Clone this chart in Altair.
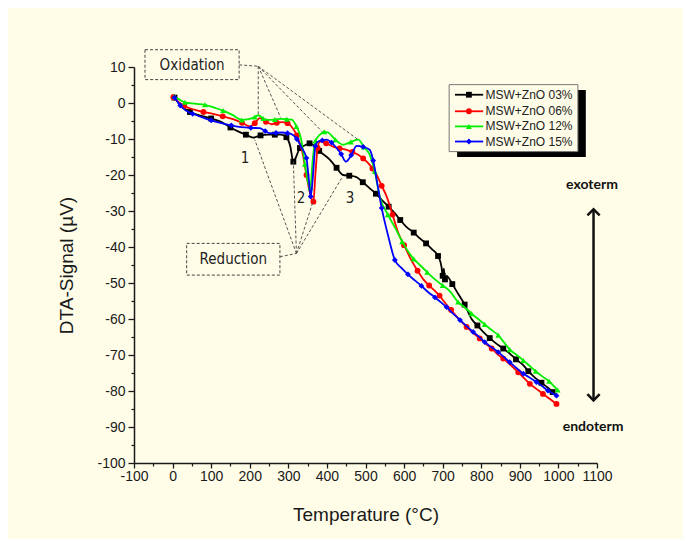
import altair as alt
import pandas as pd

# ---------------- data ----------------
series_names = ["MSW+ZnO 03%", "MSW+ZnO 06%", "MSW+ZnO 12%", "MSW+ZnO 15%"]

t_03 = [5, 20, 45, 75, 100, 127, 150, 170, 190, 209, 228, 248, 265, 280, 295, 305, 313, 320, 330, 342,
        355, 367, 380, 408, 425, 442, 458, 475, 493, 511, 527, 542, 560, 576, 590, 606, 625, 641, 657, 672,
        688, 697, 700, 703, 706, 710, 725, 740, 757, 775, 790, 805, 822, 840, 857, 874, 890, 907, 922, 939,
        956, 973, 985, 998]
s_03 = [1.5, -0.5, -2.5, -3.6, -4.3, -5.3, -6.8, -7.9, -8.8, -9.6, -9.0, -8.8, -8.8, -8.8, -9.5, -12, -16.3, -15.0, -12.5, -11.8,
        -11.2, -11.8, -13.3, -15.8, -18, -20, -20.2, -20.5, -22, -23.7, -25.2, -26.9, -28.8, -30.6, -32.5, -34.4, -36, -37.6, -39.0, -40.6,
        -42.5, -45.5, -48, -46, -49, -48, -50.3, -53, -56, -60, -61.8, -63.6, -65.3, -66.9, -68.2, -69.6, -71.2, -72.6, -74.5, -76.3,
        -77.7, -79.1, -80.3, -81.5]

t_06 = [2, 15, 30, 58, 80, 105, 130, 157, 180, 200, 213, 226, 242, 257, 270, 283, 298, 310, 322, 335,
        347, 356, 365, 370, 376, 382, 398, 416, 433, 451, 466, 481, 494, 507, 518, 529, 542, 555, 570, 585,
        600, 618, 635, 650, 665, 680, 692, 701, 722, 745, 762, 779, 796, 811, 827, 842, 857, 876, 896, 911,
        926, 943, 960, 978, 995]
s_06 = [1.6, 0.3, -0.8, -1.9, -2.5, -3.0, -3.7, -4.5, -5.5, -6.5, -5.6, -4.2, -5.2, -5.9, -5.5, -5.3, -5.6, -6.8, -9, -13,
        -20, -25, -27.4, -20, -12.5, -10.7, -11.2, -12.1, -12.6, -13.0, -13.6, -14.4, -15.4, -16.7, -18.2, -20.0, -23, -26, -31, -36.1,
        -39.5, -43.5, -46.6, -49, -50.7, -52.2, -53.5, -54.8, -57.5, -60.4, -62.2, -63.9, -65.4, -66.8, -68.2, -69.8, -71.0, -72.8, -74.8, -76.4,
        -78.0, -79.4, -80.8, -82.2, -83.6]

t_12 = [5, 20, 32, 58, 84, 108, 131, 155, 179, 197, 213, 222, 235, 248, 265, 283, 296, 309, 321, 333,
        343, 351, 357, 363, 370, 382, 393, 403, 422, 442, 462, 481, 496, 511, 524, 537, 558, 580, 595, 610,
        625, 641, 660, 680, 700, 719, 740, 757, 775, 792, 809, 826, 844, 859, 874, 892, 909, 925, 941, 959,
        976, 987, 998]
s_12 = [1.8, 0.8, 0.2, -0.2, -0.5, -1.3, -2.1, -3.3, -4.7, -4.5, -3.9, -3.4, -4.3, -4.7, -4.6, -4.4, -4.5, -4.6, -6.5, -10,
        -17, -22, -23.5, -16, -10.5, -8.8, -8.0, -8.2, -10.2, -11.6, -10.8, -10.2, -12.2, -14.4, -19, -26, -31, -35.3, -38.5, -41.2,
        -43.3, -45.0, -47, -49, -50.7, -52.3, -55.3, -56.8, -58.5, -60, -61.5, -63, -64.5, -66.5, -68.5, -70, -71.5, -73, -74.5, -76,
        -77.3, -78.5, -79.7]

t_15 = [5, 11, 20, 32, 52, 75, 100, 127, 152, 179, 203, 226, 240, 252, 268, 283, 298, 311, 322, 335,
        347, 352, 358, 364, 370, 377, 388, 399, 412, 425, 437, 449, 463, 477, 494, 511, 520, 530, 542, 559,
        576, 593, 610, 627, 645, 662, 680, 695, 710, 727, 745, 762, 779, 796, 809, 826, 844, 859, 874, 891,
        909, 926, 943, 958, 973, 984, 995]
s_15 = [1.5, 0.6, -0.7, -1.9, -3.0, -3.9, -4.8, -5.6, -6.2, -6.7, -6.9, -7.0, -7.8, -8.4, -8.3, -8.2, -8.4, -8.8, -10, -12.5,
        -15.3, -20, -26, -20, -12, -10.7, -10.4, -10.2, -11, -12.5, -14.2, -16.3, -14.5, -11.9, -12.2, -13.0, -16, -22, -29.2, -37,
        -43.6, -45.8, -47.6, -49.2, -50.8, -52.5, -54, -55.3, -56.7, -58.5, -60.3, -62, -63.6, -65.1, -66.4, -67.8, -69.2, -70.6, -72.0, -73.6,
        -75.2, -76.3, -77.5, -78.7, -79.9, -80.6, -81.3]

x_major = list(range(-100, 1101, 100))
x_minor = list(range(-50, 1051, 100))
y_major = list(range(-100, 11, 10))
y_minor = list(range(-95, 6, 10))

# annotation content
peak_labels = ["1", "2", "3"]
peak_t = [188, 333, 460]
peak_s = [-15.3, -26.4, -26.4]

# ---------------- styling ----------------
colors = ["#000000", "#FF0000", "#00EE00", "#0000FF"]
shapes = ["square", "circle", "triangle-up", "diamond"]
BG = "#FFFDE8"
AX = "#1a1a1a"

rows = []
for name, ts, ss in zip(series_names, [t_03, t_06, t_12, t_15], [s_03, s_06, s_12, s_15]):
    for t, s in zip(ts, ss):
        rows.append({"series": name, "T": t, "S": s})
df = pd.DataFrame(rows)

xs = alt.Scale(domain=[-100, 1100], nice=False, zero=False)
ys = alt.Scale(domain=[-100, 10], nice=False, zero=False)

X0 = alt.X("T:Q", scale=xs, axis=None)
Y0 = alt.Y("S:Q", scale=ys, axis=None)

layers = []

# major axes layer
major_axis_x = alt.Axis(values=x_major, title="Temperature (°C)", orient="bottom", grid=False,
                        labelExpr="toString(datum.value)",
                        labelFont="Liberation Sans", labelFontSize=14, labelColor=AX, labelPadding=1,
                        tickSize=5, tickWidth=1.3, tickColor=AX, domainColor=AX, domainWidth=1.5,
                        titleFont="Liberation Sans", titleFontSize=19, titleFontWeight="normal",
                        titleColor=AX, titlePadding=22, labelFlush=False)
major_axis_y = alt.Axis(values=y_major, title="DTA-Signal (µV)", orient="left", grid=False,
                        labelExpr="toString(datum.value)",
                        labelFont="Liberation Sans", labelFontSize=14, labelColor=AX, labelPadding=3,
                        tickSize=6, tickWidth=1.3, tickColor=AX, domainColor=AX, domainWidth=1.5,
                        titleFont="Liberation Sans", titleFontSize=19, titleFontWeight="normal",
                        titleColor=AX, titlePadding=20, labelFlush=False)
layers.append(alt.Chart(df).mark_point(opacity=0).encode(
    x=alt.X("T:Q", scale=xs, axis=major_axis_x),
    y=alt.Y("S:Q", scale=ys, axis=major_axis_y)))

# minor ticks layer
minor_axis_x = alt.Axis(values=x_minor, title=None, orient="bottom", grid=False, labels=False,
                        tickSize=3, tickWidth=1.2, tickColor=AX, domain=False)
minor_axis_y = alt.Axis(values=y_minor, title=None, orient="left", grid=False, labels=False,
                        tickSize=3, tickWidth=1.2, tickColor=AX, domain=False)
layers.append(alt.Chart(df).mark_point(opacity=0).encode(
    x=alt.X("T:Q", scale=xs, axis=minor_axis_x),
    y=alt.Y("S:Q", scale=ys, axis=minor_axis_y)))

# data series
for name, col, shp in zip(series_names, colors, shapes):
    base = alt.Chart(df).transform_filter(alt.datum.series == name)
    layers.append(base.mark_line(color=col, strokeWidth=1.8, interpolate="monotone").encode(x=X0, y=Y0))
    layers.append(base.transform_window(rn="row_number()")
                  .transform_filter("datum.rn % 2 == 1")
                  .mark_point(color=col, fill=col, filled=True, shape=shp, size=34, opacity=1)
                  .encode(x=X0, y=Y0))

# dashed annotation boxes
boxes = pd.DataFrame({"x1": [-71.5, 36.5], "x2": [172.5, 278.2],
                      "y1": [14.8, -39.0], "y2": [6.5, -47.8]})
layers.append(alt.Chart(boxes).mark_rect(fillOpacity=0, stroke="#444", strokeWidth=1,
                                         strokeDash=[3, 2]).encode(
    x=alt.X("x1:Q", scale=xs, axis=None), x2="x2:Q",
    y=alt.Y("y1:Q", scale=ys, axis=None), y2="y2:Q"))

box_text = pd.DataFrame({"x": [50.5, 157.3], "y": [10.6, -43.4], "label": ["Oxidation", "Reduction"]})
layers.append(alt.Chart(box_text).mark_text(font="DejaVu Sans Condensed", fontSize=15, color="#222",
                                            align="center", baseline="middle").encode(
    x=alt.X("x:Q", scale=xs, axis=None), y=alt.Y("y:Q", scale=ys, axis=None), text="label:N"))

# dashed leader lines
seg_x1 = [172.5, 222, 222, 222, 222, 278.2, 321, 321, 321, 321]
seg_y1 = [10.6, 10.2, 10.2, 10.2, 10.2, -42.7, -41.8, -41.8, -41.8, -41.8]
seg_x2 = [222, 222, 280, 388, 481, 321, 213, 313, 365, 438]
seg_y2 = [10.2, -3.3, -4.0, -8.0, -10.2, -41.8, -10.2, -16.3, -27.0, -20.9]
segs = pd.DataFrame({"x1": seg_x1, "y1": seg_y1, "x2": seg_x2, "y2": seg_y2})
layers.append(alt.Chart(segs).mark_rule(color="#555", strokeWidth=1, strokeDash=[3, 2]).encode(
    x=alt.X("x1:Q", scale=xs, axis=None), y=alt.Y("y1:Q", scale=ys, axis=None),
    x2="x2:Q", y2="y2:Q"))

# peak numbers
peaks = pd.DataFrame({"x": peak_t, "y": peak_s, "label": peak_labels})
layers.append(alt.Chart(peaks).mark_text(font="DejaVu Sans Condensed", fontSize=15, color="#222",
                                         align="center", baseline="middle").encode(
    x=alt.X("x:Q", scale=xs, axis=None), y=alt.Y("y:Q", scale=ys, axis=None), text="label:N"))

# exo / endo arrow
arrow = pd.DataFrame({"x": [1091], "y1": [-29.5], "y2": [-82.6]})
layers.append(alt.Chart(arrow).mark_rule(color="#111", strokeWidth=2.5).encode(
    x=alt.X("x:Q", scale=xs, axis=None), y=alt.Y("y1:Q", scale=ys, axis=None), y2="y2:Q"))
heads = pd.DataFrame({"x": [1091, 1091], "y": [-29.5, -82.6], "dir": ["up", "down"]})
layers.append(alt.Chart(heads).mark_point(filled=False, size=150, strokeWidth=2.5, color="#111", opacity=1).encode(
    x=alt.X("x:Q", scale=xs, axis=None), y=alt.Y("y:Q", scale=ys, axis=None),
    shape=alt.Shape("dir:N", scale=alt.Scale(domain=["up", "down"],
                                             range=["M-1,1L0,0L1,1", "M-1,-1L0,0L1,-1"]), legend=None)))
endo = pd.DataFrame({"x": [1087, 1090], "y": [-22.8, -90.1], "label": ["exoterm", "endoterm"]})
layers.append(alt.Chart(endo).mark_text(font="Lato", fontWeight="bold", fontSize=14, color="#111",
                                        align="center", baseline="middle").encode(
    x=alt.X("x:Q", scale=xs, axis=None), y=alt.Y("y:Q", scale=ys, axis=None), text="label:N"))

# custom legend (in data coordinates)
leg_shadow = pd.DataFrame({"x1": [737.5], "x2": [1071], "y1": [3.6], "y2": [-15.0]})
layers.append(alt.Chart(leg_shadow).mark_rect(color="#000").encode(
    x=alt.X("x1:Q", scale=xs, axis=None), x2="x2:Q",
    y=alt.Y("y1:Q", scale=ys, axis=None), y2="y2:Q"))
leg_box = pd.DataFrame({"x1": [716.8], "x2": [1050.5], "y1": [5.1], "y2": [-13.5]})
layers.append(alt.Chart(leg_box).mark_rect(fill=BG, stroke="#777", strokeWidth=1).encode(
    x=alt.X("x1:Q", scale=xs, axis=None), x2="x2:Q",
    y=alt.Y("y1:Q", scale=ys, axis=None), y2="y2:Q"))
leg_rows = [2.3, -2.3, -6.5, -10.7]
for name, col, shp, ly in zip(series_names, colors, shapes, leg_rows):
    ld = pd.DataFrame({"x1": [732], "x2": [805], "xm": [768], "xt": [811], "y": [ly], "label": [name]})
    layers.append(alt.Chart(ld).mark_rule(color=col, strokeWidth=1.8).encode(
        x=alt.X("x1:Q", scale=xs, axis=None), x2="x2:Q", y=alt.Y("y:Q", scale=ys, axis=None)))
    layers.append(alt.Chart(ld).mark_point(color=col, fill=col, filled=True, shape=shp, size=34, opacity=1).encode(
        x=alt.X("xm:Q", scale=xs, axis=None), y=alt.Y("y:Q", scale=ys, axis=None)))
    layers.append(alt.Chart(ld).mark_text(font="Liberation Sans", fontSize=12, color="#222",
                                          align="left", baseline="middle").encode(
        x=alt.X("xt:Q", scale=xs, axis=None), y=alt.Y("y:Q", scale=ys, axis=None), text="label:N"))

chart = alt.layer(*layers).resolve_axis(x="independent", y="independent").properties(
    width=463, height=396,
    padding={"left": 126, "top": 59, "right": 86, "bottom": 76},
    autosize=alt.AutoSizeParams(type="none"),
).configure(background=BG).configure_view(stroke=None)

chart.save("out.html", embed_options={"renderer": "svg", "actions": False})
